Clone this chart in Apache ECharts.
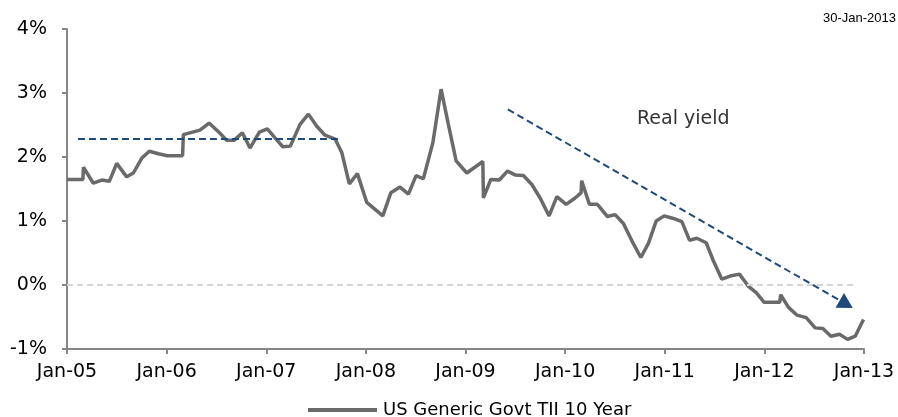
<!DOCTYPE html>
<html>
<head>
<meta charset="utf-8">
<script src="https://cdn.jsdelivr.net/npm/echarts@6/dist/echarts.min.js"></script>
<style>html,body{margin:0;padding:0;background:#fff}#c{width:898px;height:417px}</style>
</head>
<body>
<div id="c"></div>
<script>
// Dates as decimal years
const dates = [
  2005.00, 2005.16, 2005.165, 2005.264, 2005.348, 2005.425, 2005.499, 2005.599, 2005.666, 2005.750, 2005.826, 2005.917,
  2006.007, 2006.16, 2006.168, 2006.335, 2006.426, 2006.536, 2006.603, 2006.677, 2006.760, 2006.837, 2006.931,
  2007.011, 2007.088, 2007.166, 2007.242, 2007.339, 2007.423, 2007.507, 2007.590, 2007.691, 2007.758, 2007.834, 2007.915,
  2008.009, 2008.170, 2008.250, 2008.343, 2008.427, 2008.504, 2008.577, 2008.672, 2008.755, 2008.828, 2008.906,
  2009.013, 2009.174, 2009.180, 2009.254, 2009.340, 2009.421, 2009.498, 2009.581, 2009.666, 2009.749, 2009.839, 2009.917,
  2010.010, 2010.100, 2010.160, 2010.166, 2010.244, 2010.324, 2010.425, 2010.502, 2010.585, 2010.670, 2010.760, 2010.836, 2010.914, 2010.994,
  2011.087, 2011.172, 2011.248, 2011.322, 2011.416, 2011.489, 2011.573, 2011.657, 2011.750, 2011.840, 2011.918, 2011.998,
  2012.155, 2012.163, 2012.242, 2012.326, 2012.420, 2012.510, 2012.587, 2012.668, 2012.754, 2012.834, 2012.912, 2012.995
];
// US Generic Govt TII 10 Year real yield, %
const yields = [
  1.65, 1.65, 1.84, 1.59, 1.64, 1.62, 1.90, 1.69, 1.75, 1.98, 2.09, 2.05,
  2.02, 2.02, 2.35, 2.42, 2.53, 2.37, 2.26, 2.26, 2.38, 2.14, 2.39,
  2.44, 2.30, 2.16, 2.17, 2.51, 2.67, 2.48, 2.34, 2.28, 2.07, 1.58, 1.74,
  1.29, 1.08, 1.44, 1.53, 1.42, 1.71, 1.66, 2.22, 3.06, 2.51, 1.94,
  1.75, 1.93, 1.36, 1.65, 1.64, 1.78, 1.72, 1.71, 1.57, 1.36, 1.08, 1.38,
  1.26, 1.36, 1.44, 1.63, 1.26, 1.26, 1.07, 1.10, 0.96, 0.69, 0.43, 0.65, 1.00, 1.08,
  1.04, 0.99, 0.70, 0.73, 0.66, 0.375, 0.09, 0.14, 0.17, -0.02, -0.12, -0.27,
  -0.27, -0.15, -0.35, -0.47, -0.51, -0.67, -0.68, -0.80, -0.77, -0.85, -0.80, -0.54
];
const yTicks = { min: -1, max: 4, step: 1 };
const xTicks = { min: 2005, max: 2013, step: 1 };
const seriesName = 'US Generic Govt TII 10 Year';
// Annotation trend lines (x in years, y in %)
const flatTrend = [[2005.11, 2.28], [2007.72, 2.28]];
const downTrend = [[2009.425, 2.745], [2012.822, -0.30]];

const chart = echarts.init(document.getElementById('c'), null, { renderer: 'canvas' });
const font = 'DejaVu Sans';
const dashColor = '#1F497D';
chart.setOption({
  animation: false,
  backgroundColor: '#fff',
  grid: { left: 67, right: 34, top: 29, bottom: 68, containLabel: false },
  xAxis: {
    type: 'value', min: xTicks.min, max: xTicks.max, interval: xTicks.step,
    axisLine: { onZero: false, lineStyle: { color: '#868686', width: 2 } },
    axisTick: { show: true, length: 5, lineStyle: { color: '#868686', width: 2 } },
    axisLabel: { color: '#000', fontFamily: font, fontSize: 19, margin: 14,
      formatter: v => 'Jan-' + String(Math.round(v)).slice(2) },
    splitLine: { show: false }
  },
  yAxis: {
    type: 'value', min: yTicks.min, max: yTicks.max, interval: yTicks.step,
    axisLine: { show: true, onZero: false, lineStyle: { color: '#868686', width: 2 } },
    axisTick: { show: true, length: 5, lineStyle: { color: '#868686', width: 2 } },
    axisLabel: { color: '#000', fontFamily: font, fontSize: 19, margin: 20, formatter: '{value}%' },
    splitLine: { show: false }
  },
  legend: {
    data: [{ name: seriesName, icon: 'path://M0,0H69V4H0Z' }], left: 303, top: 396,
    itemWidth: 69, itemHeight: 4, itemGap: 10,
    itemStyle: { color: '#6a6a6a' },
    textStyle: { color: '#000', fontFamily: font, fontSize: 18, padding: [0, 0, 0, 1] }
  },
  graphic: [
    { type: 'text', right: 2, top: 12, style: { text: '30-Jan-2013', fill: '#000', font: '13px "Liberation Sans"' } },
    { type: 'text', left: 637, top: 110, style: { text: 'Real yield', fill: '#333', font: '19px "DejaVu Sans"' } }
  ],
  series: [
    {
      name: seriesName, type: 'line', symbol: 'none',
      data: dates.map((d, i) => [d, yields[i]]),
      lineStyle: { color: '#6a6a6a', width: 3.5 },
      itemStyle: { color: '#6a6a6a' },
      z: 3,
      markLine: {
        silent: true, symbol: ['none', 'none'], label: { show: false },
        data: [
          [{ yAxis: 0, x: 67, lineStyle: { color: '#d6d6d6', width: 2, type: [6, 4] } },
           { yAxis: 0, x: 857 }],
          [{ coord: flatTrend[0], lineStyle: { color: dashColor, width: 2, type: [7, 4] } },
           { coord: flatTrend[1] }],
          [{ coord: downTrend[0], lineStyle: { color: dashColor, width: 2, type: [7, 4] } },
           { coord: downTrend[1] }]
        ]
      }
    },
    {
      name: 'arrowhead', type: 'scatter', silent: true, z: 4,
      data: [downTrend[1]],
      symbol: 'triangle', symbolSize: [17, 15], symbolRotate: -120,
      itemStyle: { color: dashColor, opacity: 1 }
    }
  ]
});
</script>
</body>
</html>
